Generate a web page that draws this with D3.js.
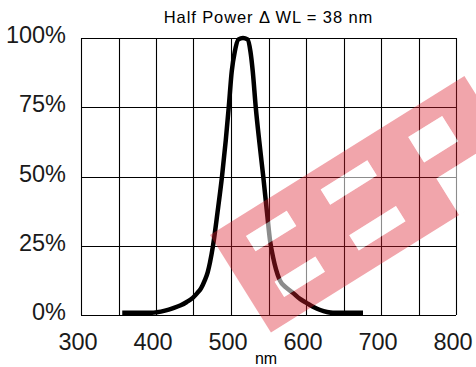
<!DOCTYPE html>
<html>
<head>
<meta charset="utf-8">
<script src="https://cdn.jsdelivr.net/npm/d3@7"></script>
<style>
  body { margin: 0; background: #fff; }
  svg { display: block; font-family: "Liberation Sans", Arial, sans-serif; }
</style>
</head>
<body>
<div id="chart"></div>
<script>
// spectrum
const wavelength = [355, 395, 401, 412, 423, 433, 441, 449, 455, 460, 465, 469, 472, 476, 482, 488, 493, 497, 501, 505, 510, 516,
                    522, 526, 529, 533, 538, 543, 548, 552, 556, 560, 565, 574, 583, 592, 601, 610, 619, 628, 636, 645, 676];
const power      = [0.8, 0.8, 1, 1.6, 2.5, 3.5, 4.7, 6.2, 7.9, 9.6, 12.5, 15.5, 19, 25, 37, 50, 63, 75, 88, 95, 99.5, 100,
                    99.5, 95, 88, 75, 62, 50, 37, 27, 21, 16.5, 12.6, 9.8, 7.9, 5.8, 4.3, 2.9, 1.8, 1.1, 0.8, 0.8, 0.8];
const xTicks = [300, 400, 500, 600, 700, 800];
const yTicks = [0, 25, 50, 75, 100];
const xGrid = d3.range(300, 801, 50);
const title = 'Half Power \u0394 WL = 38 nm';
const xTitle = 'nm';

const width = 476;
const height = 367;
const margin = {top: 38, right: 20, bottom: 52, left: 81};

const x = d3.scaleLinear()
            .domain([300, 800])
            .range([margin.left, width - margin.right]);
const y = d3.scaleLinear()
            .domain([0, 100])
            .range([height - margin.bottom, margin.top]);

const svg = d3.select('#chart')
              .append('svg')
              .attr('width', width)
              .attr('height', height);

// grid
svg.append('g')
   .selectAll('line')
   .data(xGrid)
   .enter()
   .append('line')
   .attr('x1', d => Math.round(x(d)) + 0.5)
   .attr('x2', d => Math.round(x(d)) + 0.5)
   .attr('y1', y(100))
   .attr('y2', y(0))
   .attr('stroke', '#000')
   .attr('stroke-width', 1.1);

svg.append('g')
   .selectAll('line')
   .data(yTicks)
   .enter()
   .append('line')
   .attr('x1', x(300))
   .attr('x2', x(800))
   .attr('y1', d => Math.round(y(d)) + 0.5)
   .attr('y2', d => Math.round(y(d)) + 0.5)
   .attr('stroke', '#000')
   .attr('stroke-width', 1.1);

// axes labels
const xAxis = svg.append('g')
                 .attr('transform', `translate(-3.5,${y(0) + 35})`)
                 .call(d3.axisBottom(x).tickValues(xTicks).tickSize(0).tickPadding(0));
xAxis.select('.domain').remove();
xAxis.selectAll('text')
     .attr('dy', 0)
     .attr('fill', '#1a1a1a')
     .style('font-size', '23.5px')
     .style('font-family', '"Liberation Sans", Arial, sans-serif');

const yAxis = svg.append('g')
                 .attr('transform', 'translate(66,0)')
                 .call(d3.axisLeft(y).tickValues(yTicks).tickSize(0).tickPadding(0).tickFormat(d => d + '%'));
yAxis.select('.domain').remove();
yAxis.selectAll('text')
     .attr('dy', '0.2em')
     .attr('fill', '#1a1a1a')
     .style('font-size', '23.5px')
     .style('font-family', '"Liberation Sans", Arial, sans-serif');

svg.append('text')
   .attr('x', 268.5)
   .attr('y', 23)
   .attr('text-anchor', 'middle')
   .style('font-size', '16.5px')
   .style('letter-spacing', '0.9px')
   .text(title);

svg.append('text')
   .attr('x', 266)
   .attr('y', 364)
   .attr('text-anchor', 'middle')
   .style('font-size', '16px')
   .text(xTitle);

// spectrum curve
const line = d3.line()
               .x((d, i) => x(wavelength[i]))
               .y(d => y(d))
               .curve(d3.curveMonotoneX);

svg.append('path')
   .datum(power)
   .attr('d', line)
   .attr('fill', 'none')
   .attr('stroke', '#000')
   .attr('stroke-width', 4.5)
   .attr('stroke-linejoin', 'round');

// watermark band with letter gaps
const bandLen = 300;
const bandH = 115;
const gaps = [
  [30, 20, 48, 18], [30, 74, 48, 18],
  [118, 20, 55, 18], [118, 74, 55, 18],
  [220, 22, 40, 30], [222, 72, 90, 43]
];
const rectPath = r => `M${r[0]},${r[1]}h${r[2]}v${r[3]}h${-r[2]}Z`;

const wm = svg.append('g')
              .attr('transform', 'translate(210,235) rotate(-32)');

wm.append('path')
  .attr('d', rectPath([0, 0, bandLen, bandH]) + gaps.map(rectPath).join(''))
  .attr('fill-rule', 'evenodd')
  .attr('fill', '#dc1e2d')
  .attr('fill-opacity', 0.4);

wm.selectAll('rect')
  .data(gaps)
  .enter()
  .append('rect')
  .attr('x', d => d[0])
  .attr('y', d => d[1])
  .attr('width', d => d[2])
  .attr('height', d => d[3])
  .attr('fill', '#fff')
  .attr('fill-opacity', 0.55);
</script>
</body>
</html>
